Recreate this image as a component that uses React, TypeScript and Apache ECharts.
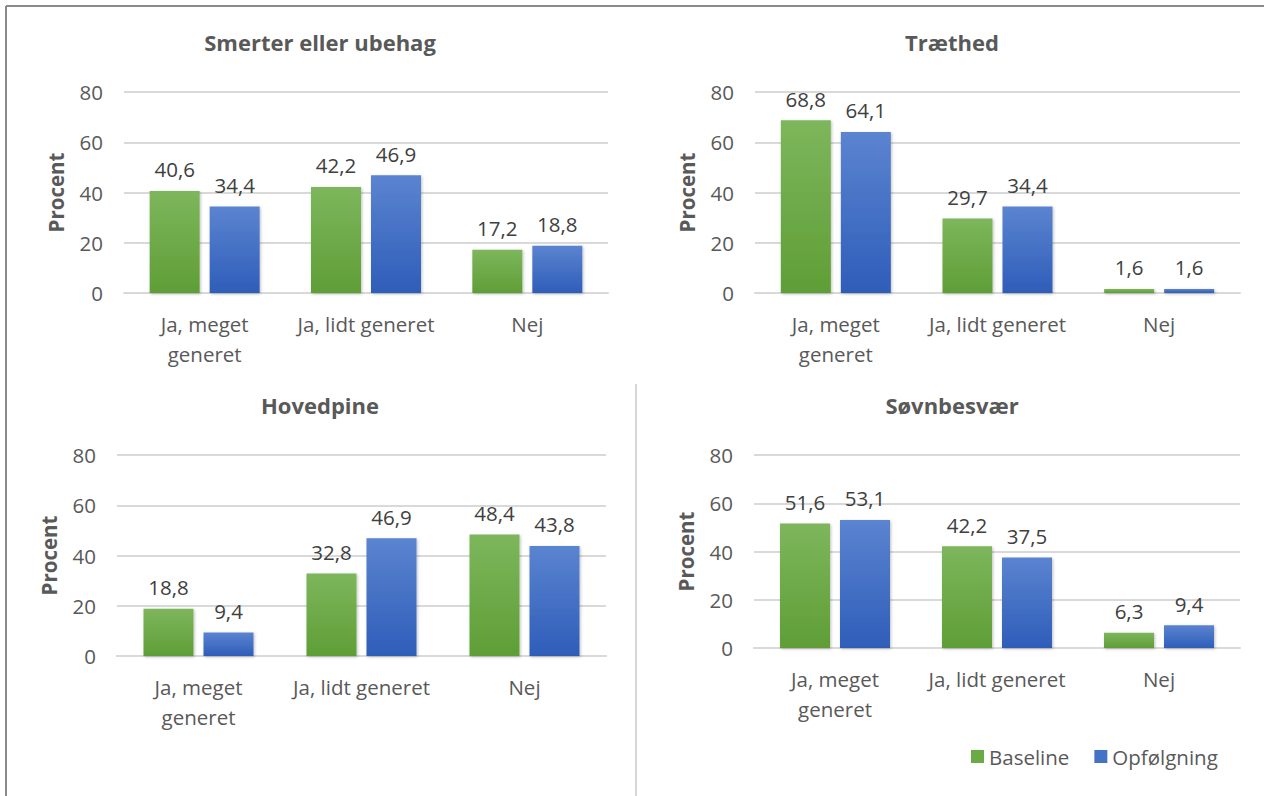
import React, { useEffect, useRef } from "react";
import * as echarts from "echarts";

const categories = ["Ja, meget\ngeneret", "Ja, lidt generet", "Nej"];
const seriesNames = ["Baseline", "Opfølgning"];
const panelTitles = ["Smerter eller ubehag", "Træthed", "Hovedpine", "Søvnbesvær"];

const smerterBaseline = [40.6, 42.2, 17.2];
const smerterOpfolgning = [34.4, 46.9, 18.8];
const traethedBaseline = [68.8, 29.7, 1.6];
const traethedOpfolgning = [64.1, 34.4, 1.6];
const hovedpineBaseline = [18.8, 32.8, 48.4];
const hovedpineOpfolgning = [9.4, 46.9, 43.8];
const sovnBaseline = [51.6, 42.2, 6.3];
const sovnOpfolgning = [53.1, 37.5, 9.4];

const yTicks = { min: 0, max: 80, interval: 20 };

const FONT = "'Open Sans', sans-serif";
const TXT = "#595959";

const grids = [
  { left: 124, top: 92, width: 484, height: 201 },
  { left: 755, top: 92, width: 485, height: 201 },
  { left: 117, top: 455, width: 489, height: 201 },
  { left: 754, top: 455, width: 486, height: 193 },
];
const titlePos = [
  { x: 320, y: 31 },
  { x: 952, y: 31 },
  { x: 320, y: 394 },
  { x: 952, y: 394 },
];

const greenGrad = new echarts.graphic.LinearGradient(0, 0, 0, 1, [
  { offset: 0, color: "#7db65c" },
  { offset: 1, color: "#5f9e36" },
]);
const blueGrad = new echarts.graphic.LinearGradient(0, 0, 0, 1, [
  { offset: 0, color: "#5b84d0" },
  { offset: 1, color: "#2e5db9" },
]);

export default function App() {
  const ref = useRef<HTMLDivElement>(null);
  useEffect(() => {
    if (!ref.current) return;
    const chart = echarts.init(ref.current, null, { renderer: "svg" });
    const data = [
      [smerterBaseline, smerterOpfolgning],
      [traethedBaseline, traethedOpfolgning],
      [hovedpineBaseline, hovedpineOpfolgning],
      [sovnBaseline, sovnOpfolgning],
    ];
    const series: any[] = [];
    data.forEach((pair, i) => {
      pair.forEach((vals, j) => {
        series.push({
          type: "bar",
          name: seriesNames[j],
          xAxisIndex: i,
          yAxisIndex: i,
          data: vals,
          barWidth: 50,
          barGap: "20%",
          itemStyle: {
            color: j === 0 ? greenGrad : blueGrad,
            shadowColor: "rgba(0,0,0,0.25)",
            shadowBlur: 3,
            shadowOffsetX: 1,
            shadowOffsetY: 1,
          },
          label: {
            show: true,
            position: "top",
            distance: 11,
            color: "#404040",
            fontSize: 20.5,
            fontFamily: FONT,
            formatter: (p: any) => String(p.value.toFixed(1)).replace(".", ","),
          },
        });
      });
    });
    chart.setOption({
      animation: false,
      backgroundColor: "#ffffff",
      title: panelTitles.map((t, i) => ({
        text: t,
        left: titlePos[i].x,
        top: titlePos[i].y,
        textAlign: "center",
        padding: 0,
        textStyle: { fontSize: 22, fontWeight: "bold", color: TXT, fontFamily: FONT },
      })),
      legend: {
        data: [
          { name: "Baseline", itemStyle: { color: "#6aab45" } },
          { name: "Opfølgning", itemStyle: { color: "#4472c4" } },
        ],
        left: 971,
        top: 746,
        icon: "rect",
        itemWidth: 13,
        itemHeight: 13,
        itemGap: 25,
        padding: 0,
        textStyle: { fontSize: 20.5, color: TXT, fontFamily: FONT },
      },
      grid: grids.map((g) => ({ ...g, containLabel: false })),
      xAxis: grids.map((_, i) => ({
        type: "category",
        gridIndex: i,
        data: categories,
        axisLine: { show: true, lineStyle: { color: "#d9d9d9", width: 2 } },
        axisTick: { show: false },
        axisLabel: {
          color: TXT,
          fontSize: 20.5,
          fontFamily: FONT,
          lineHeight: 30,
          margin: 16,
          interval: 0,
        },
      })),
      yAxis: grids.map((_, i) => ({
        type: "value",
        gridIndex: i,
        min: yTicks.min,
        max: yTicks.max,
        interval: yTicks.interval,
        name: "Procent",
        nameLocation: "middle",
        nameRotate: 90,
        nameGap: 58,
        nameTextStyle: { fontSize: 20.5, fontWeight: "bold", color: TXT, fontFamily: FONT },
        axisLine: { show: false },
        axisTick: { show: false },
        splitLine: { lineStyle: { color: "#d9d9d9", width: 2 } },
        axisLabel: { color: TXT, fontSize: 20.5, fontFamily: FONT, margin: 21 },
      })),
      graphic: [
        { type: "line", shape: { x1: 6, y1: 6, x2: 1264, y2: 6 }, style: { stroke: "#8a8a8a", lineWidth: 2 } },
        { type: "line", shape: { x1: 6, y1: 6, x2: 6, y2: 796 }, style: { stroke: "#8a8a8a", lineWidth: 2 } },
        { type: "line", shape: { x1: 636, y1: 384, x2: 636, y2: 796 }, style: { stroke: "#c8c8c8", lineWidth: 1.5 } },
      ],
      series,
    });
    return () => chart.dispose();
  }, []);
  return (
    <div
      ref={ref}
      style={{ position: "fixed", left: 0, top: 0, width: 1264, height: 796, background: "#fff" }}
    />
  );
}
